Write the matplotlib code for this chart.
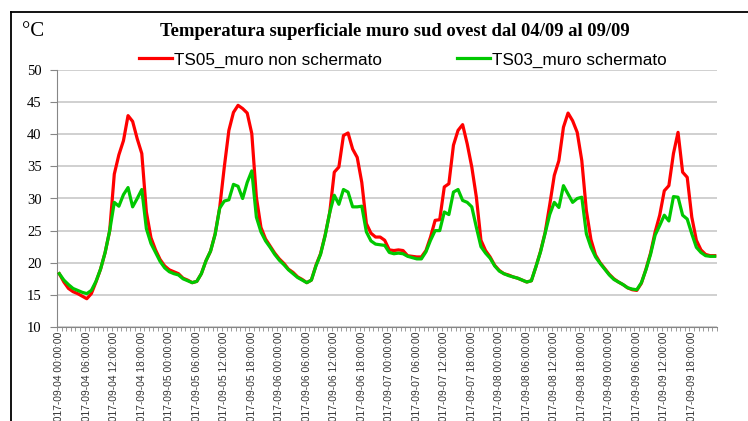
import numpy as np
import pandas as pd
import matplotlib
matplotlib.use('Agg')
import matplotlib.pyplot as plt
from matplotlib.lines import Line2D

# hourly samples 04/09 00:00 -> 09/09 23:00
times = pd.date_range('2017-09-04 00:00', periods=144, freq='h')
labels = [t.strftime('%Y-%m-%d %H:%M:%S') for t in times]

ts05 = [18.3, 17.0, 16.0, 15.5, 15.2, 14.8, 14.4, 15.2, 17.0, 19.0, 21.6, 25.0,
        33.8, 36.8, 39.0, 42.9, 42.0, 39.3, 37.0, 27.9, 23.9, 22.0, 20.5, 19.5,
        18.9, 18.6, 18.3, 17.6, 17.3, 16.9, 17.1, 18.3, 20.3, 21.8, 24.5, 28.6,
        34.9, 40.6, 43.4, 44.5, 44.0, 43.3, 40.1, 30.2, 25.5, 23.7, 22.6, 21.5,
        20.6, 19.9, 19.0, 18.5, 17.8, 17.4, 16.9, 17.3, 19.6, 21.4, 24.3, 27.8,
        34.1, 34.9, 39.8, 40.2, 37.7, 36.4, 32.5, 26.1, 24.6, 24.0, 24.0, 23.5,
        22.0, 21.9, 22.0, 21.9, 21.1, 21.0, 20.9, 20.9, 21.9, 24.0, 26.6, 26.7,
        31.8, 32.3, 38.3, 40.6, 41.5, 38.5, 34.9, 30.2, 23.5, 21.9, 20.9, 19.6,
        18.8, 18.3, 18.1, 17.8, 17.6, 17.3, 17.0, 17.2, 19.4, 21.8, 24.7, 29.0,
        33.6, 35.9, 41.1, 43.3, 42.1, 40.3, 35.9, 28.1, 23.6, 21.2, 20.0, 19.1,
        18.2, 17.5, 17.0, 16.6, 16.1, 15.8, 15.7, 16.8, 19.0, 21.5, 24.8, 27.4,
        31.2, 32.0, 37.0, 40.3, 34.1, 33.3, 27.1, 23.5, 22.0, 21.3, 21.1, 21.1]

ts03 = [18.3, 17.3, 16.6, 16.0, 15.7, 15.4, 15.2, 15.7, 17.1, 19.0, 21.6, 25.0,
        29.4, 28.8, 30.6, 31.7, 28.7, 30.0, 31.4, 25.3, 23.0, 21.6, 20.2, 19.2,
        18.6, 18.3, 18.1, 17.5, 17.2, 16.9, 17.1, 18.3, 20.3, 21.8, 24.4, 28.5,
        29.6, 29.8, 32.2, 31.9, 30.0, 32.5, 34.3, 27.1, 24.8, 23.4, 22.4, 21.3,
        20.4, 19.7, 18.9, 18.3, 17.7, 17.3, 16.9, 17.3, 19.5, 21.3, 24.2, 27.8,
        30.5, 29.1, 31.4, 31.0, 28.7, 28.7, 28.8, 24.8, 23.4, 22.9, 22.8, 22.7,
        21.6, 21.4, 21.5, 21.4, 21.0, 20.8, 20.6, 20.6, 21.7, 23.5, 25.0, 25.0,
        27.9, 27.5, 31.0, 31.4, 29.7, 29.4, 28.7, 25.5, 22.5, 21.5, 20.7, 19.5,
        18.7, 18.3, 18.0, 17.8, 17.6, 17.3, 17.0, 17.2, 19.4, 21.7, 24.6, 27.5,
        29.4, 28.6, 32.0, 30.7, 29.4, 30.0, 30.2, 24.5, 22.4, 20.9, 19.9, 19.0,
        18.1, 17.4, 17.0, 16.6, 16.1, 15.9, 15.8, 16.9, 18.9, 21.3, 24.3, 25.8,
        27.4, 26.5, 30.3, 30.2, 27.4, 26.8, 24.5, 22.4, 21.6, 21.1, 21.0, 21.0]

W, H = 748, 421
fig = plt.figure(figsize=(W / 100, H / 100), dpi=100)
ax = fig.add_axes([57 / W, 1 - 327 / H, 660 / W, 257 / H])

x = np.arange(len(ts05))
ax.plot(x, ts05, color='#ff0000', lw=2.3, label='TS05_muro non schermato', zorder=3)
ax.plot(x, ts03, color='#00c800', lw=2.3, label='TS03_muro schermato', zorder=4)

ax.set_xlim(-0.5, len(x) - 0.5)
ax.set_ylim(10, 50)
ax.set_yticks(np.arange(10, 51, 5))
ax.yaxis.grid(True, color='#c4c4c4', lw=1.1)
ax.set_axisbelow(True)

ax.set_xticks(x[::6])
ax.set_xticklabels(labels[::6], rotation=90, fontsize=7.4,
                   family='Liberation Sans', color='#333333')
ax.set_xticks(np.arange(-0.5, len(x), 1), minor=True)
ax.tick_params(axis='x', which='major', length=0, pad=3.5)
ax.tick_params(axis='x', which='minor', length=3, color='#999999', width=0.7)
ax.tick_params(axis='y', length=5, color='#868686', labelsize=10.5, pad=6)
for lab in ax.get_yticklabels():
    lab.set_family('Liberation Serif')

for s in ['top', 'right']:
    ax.spines[s].set_visible(False)
for s in ['left', 'bottom']:
    ax.spines[s].set_color('#868686')

fig.text(395 / W, 1 - 31 / H, 'Temperatura superficiale muro sud ovest dal 04/09 al 09/09',
         ha='center', va='center', fontsize=13.4, fontweight='bold', family='Liberation Serif')
fig.text(22 / W, 1 - 32 / H, '°C', ha='left', va='center', fontsize=15,
         family='Liberation Serif')

fig.legend(loc='center', bbox_to_anchor=(403 / W, 1 - 60 / H), ncol=2, frameon=False,
           handlelength=1.9, handletextpad=0.15, columnspacing=4.4,
           prop={'family': 'Liberation Sans', 'size': 12.3})

# outer chart frame
fig.add_artist(Line2D([11 / W, 1], [1 - 12 / H, 1 - 12 / H], color='black', lw=1.3,
                      transform=fig.transFigure))
fig.add_artist(Line2D([11 / W, 11 / W], [0, 1 - 12 / H], color='black', lw=1.3,
                      transform=fig.transFigure))

fig.savefig('out.png', dpi=100)
